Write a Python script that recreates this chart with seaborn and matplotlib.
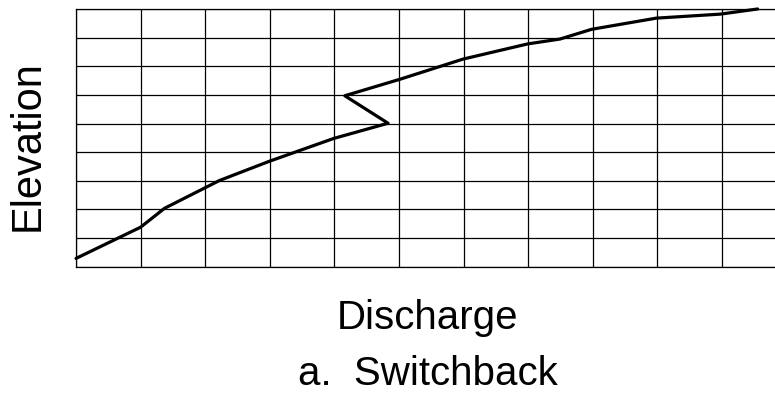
import matplotlib
matplotlib.use("Agg")
import numpy as np
import pandas as pd
import seaborn as sns
import matplotlib.pyplot as plt

# rating curve (grid units: columns / rows)
discharge = [0.0, 1.0, 1.37, 2.22, 2.99, 3.99, 4.83, 4.16, 5.02, 5.99, 6.99, 7.49, 7.98, 8.98, 9.97, 10.55]
elevation = [0.29, 1.38, 2.04, 3.01, 3.68, 4.48, 5.01, 5.97, 6.55, 7.25, 7.78, 7.95, 8.29, 8.68, 8.82, 9.0]
x_ticks = list(range(0, 11))
y_ticks = list(range(0, 10))

X_LABEL = "Discharge"
Y_LABEL = "Elevation"
CAPTION = "a.  Switchback"


def main():
    sns.set_theme(style="white")
    plt.rcParams["font.family"] = ["Liberation Sans", "DejaVu Sans"]
    plt.rcParams["text.color"] = "black"

    df = pd.DataFrame({"discharge": discharge, "elevation": elevation})

    fig = plt.figure(figsize=(7.75, 4.03), dpi=100)
    ax = fig.add_axes([0.0981, 0.3382, 0.902, 0.6395])

    sns.lineplot(data=df, x="discharge", y="elevation", sort=False,
                 color="black", linewidth=2.3, ax=ax, clip_on=False)

    ax.set_xlim(0, 10.82)
    ax.set_ylim(0, 9)
    ax.set_xticks(x_ticks)
    ax.set_yticks(y_ticks)
    ax.tick_params(length=0, labelbottom=False, labelleft=False)
    ax.grid(True, color="black", linewidth=0.9)
    ax.set_axisbelow(True)
    for side in ["left", "top", "bottom"]:
        ax.spines[side].set_color("black")
        ax.spines[side].set_linewidth(0.9)
    ax.spines["right"].set_visible(False)
    ax.set_xlabel("")
    ax.set_ylabel("")

    fig.text(0.552, 0.21, X_LABEL, ha="center", va="center", fontsize=29, color="black")
    fig.text(0.036, 0.64, Y_LABEL, ha="center", va="center", fontsize=30, rotation=90, color="black")
    fig.text(0.552, 0.072, CAPTION, ha="center", va="center", fontsize=29, color="black")

    fig.savefig("out.png", dpi=100)
    plt.close(fig)


if __name__ == "__main__":
    main()
